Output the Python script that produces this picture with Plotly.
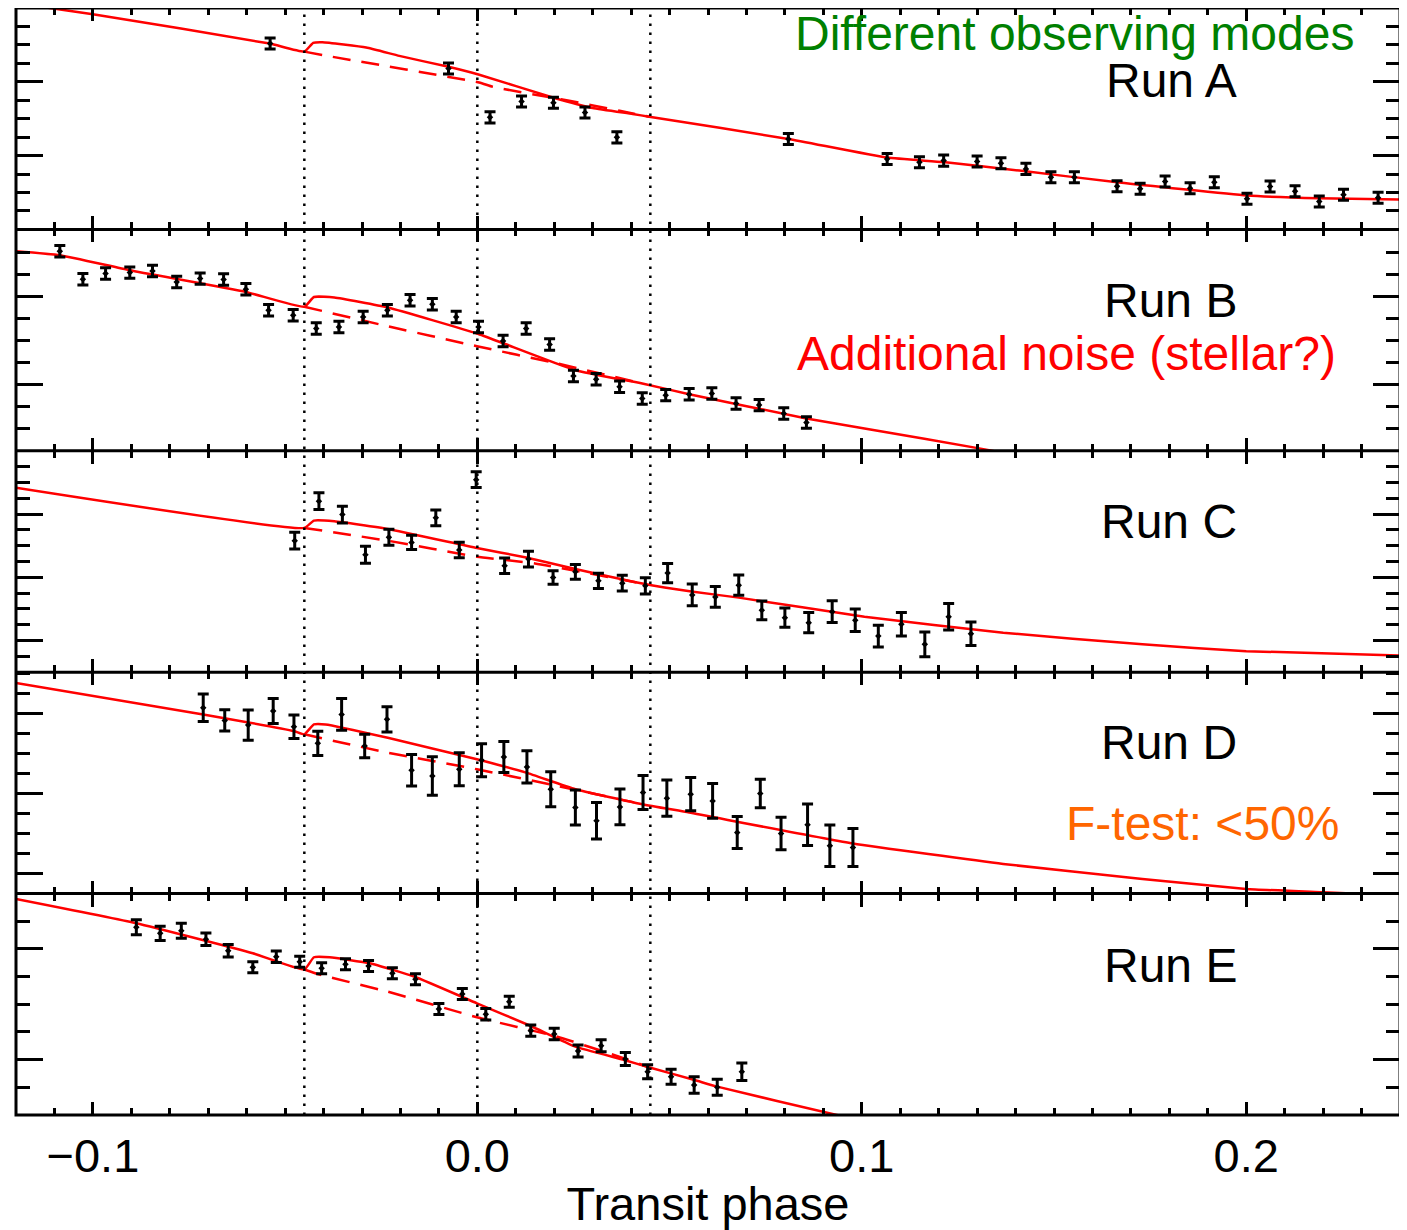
import plotly.graph_objects as go
from plotly.subplots import make_subplots

# ---------------- data ----------------
# Run A
runA_phase = [-0.0539, -0.0075, 0.0033, 0.0115, 0.0198, 0.0280, 0.0363, 0.0809, 0.1066, 0.1150,
              0.1213, 0.1300, 0.1362, 0.1427, 0.1492, 0.1553, 0.1664, 0.1724, 0.1789, 0.1854,
              0.1917, 0.2002, 0.2062, 0.2127, 0.2190, 0.2253, 0.2343]
runA_val = [2.518, 2.180, 1.518, 1.734, 1.716, 1.585, 1.247, 1.226, 0.955, 0.909,
            0.932, 0.919, 0.896, 0.820, 0.707, 0.707, 0.585, 0.550, 0.649, 0.558,
            0.639, 0.415, 0.581, 0.518, 0.378, 0.469, 0.428]
runA_err = [0.075] * len(runA_phase)
runA_model_x = [-0.12, -0.1, -0.054, -0.045, -0.0427, -0.0403, -0.0289, -0.0203, -0.0075, 0.0005,
                0.0196, 0.030, 0.0404, 0.0447, 0.0809, 0.1066, 0.1212, 0.141, 0.167, 0.2002, 0.219, 0.2398]
runA_model_y = [3.066, 2.916, 2.518, 2.409, 2.527, 2.536, 2.464, 2.351, 2.203, 2.095,
                1.788, 1.645, 1.564, 1.527, 1.226, 0.973, 0.912, 0.797, 0.635, 0.459, 0.423, 0.405]
runA_base_x = [-0.045, -0.0376, 0.0005, 0.004, 0.0239, 0.037, 0.0447]
runA_base_y = [2.409, 2.338, 1.990, 1.932, 1.743, 1.608, 1.527]

# Run B
runB_phase = [-0.1086, -0.1026, -0.0967, -0.0904, -0.0845, -0.0782, -0.0721, -0.0660, -0.0602, -0.0543,
              -0.0479, -0.0419, -0.0360, -0.0297, -0.0234, -0.0175, -0.0117, -0.0055, 0.0003, 0.0067,
              0.0127, 0.0188, 0.0250, 0.0309, 0.0370, 0.0429, 0.0490, 0.0551, 0.0610, 0.0673,
              0.0733, 0.0797, 0.0856]
runB_val = [2.512, 2.195, 2.259, 2.270, 2.288, 2.164, 2.202, 2.191, 2.081, 1.843,
            1.787, 1.636, 1.654, 1.768, 1.843, 1.957, 1.911, 1.768, 1.654, 1.496,
            1.636, 1.455, 1.099, 1.062, 0.975, 0.843, 0.881, 0.892, 0.900, 0.787,
            0.768, 0.674, 0.572]
runB_err = [0.065] * len(runB_phase)
runB_model_x = [-0.12, -0.1086, -0.0904, -0.0602, -0.045, -0.0425, -0.0372, -0.0233, -0.0001, 0.0069,
                0.0255, 0.0429, 0.0551, 0.0856, 0.1007, 0.1320, 0.1400]
runB_model_y = [2.512, 2.467, 2.297, 2.051, 1.883, 1.994, 1.987, 1.874, 1.580, 1.466,
                1.164, 1.013, 0.892, 0.617, 0.504, 0.266, 0.200]
runB_base_x = [-0.045, -0.0245, -0.0001, 0.0208, 0.0429]
runB_base_y = [1.883, 1.674, 1.436, 1.240, 1.013]

# Run C
runC_phase = [-0.0475, -0.0412, -0.0351, -0.0291, -0.0230, -0.0171, -0.0108, -0.0047, -0.0003, 0.0071,
              0.0133, 0.0197, 0.0255, 0.0315, 0.0377, 0.0437, 0.0495, 0.0559, 0.0619, 0.0680,
              0.0740, 0.0800, 0.0862, 0.0923, 0.0983, 0.1043, 0.1103, 0.1164, 0.1226, 0.1284]
runC_val = [2.579, 3.203, 2.992, 2.357, 2.632, 2.552, 2.940, 2.432, 3.543, 2.183,
            2.289, 1.997, 2.087, 1.944, 1.908, 1.865, 2.067, 1.722, 1.690, 1.876,
            1.479, 1.362, 1.283, 1.457, 1.321, 1.071, 1.257, 0.940, 1.378, 1.108]
runC_err = [0.132, 0.132, 0.132, 0.135, 0.127, 0.114, 0.124, 0.122, 0.124, 0.122,
            0.124, 0.106, 0.116, 0.119, 0.124, 0.127, 0.151, 0.171, 0.163, 0.159,
            0.148, 0.151, 0.159, 0.171, 0.179, 0.171, 0.186, 0.194, 0.210, 0.186]
runC_model_x = [-0.12, -0.045, -0.0425, -0.0372, -0.0233, -0.0001, 0.0127, 0.0255, 0.0429, 0.0557,
                0.0680, 0.1007, 0.1368, 0.1730, 0.2000, 0.2400]
runC_model_y = [3.416, 2.781, 2.897, 2.886, 2.765, 2.463, 2.314, 2.130, 1.902, 1.775,
                1.679, 1.378, 1.124, 0.940, 0.833, 0.763]
runC_base_x = [-0.045, -0.0233, -0.0001, 0.0150, 0.0429]
runC_base_y = [2.781, 2.579, 2.325, 2.219, 1.902]

# Run D
runD_phase = [-0.0713, -0.0657, -0.0596, -0.0531, -0.0477, -0.0415, -0.0353, -0.0293, -0.0235, -0.0171,
              -0.0117, -0.0047, 0.0011, 0.0069, 0.0129, 0.0191, 0.0255, 0.0310, 0.0371, 0.0431,
              0.0493, 0.0555, 0.0612, 0.0676, 0.0736, 0.0790, 0.0859, 0.0917, 0.0977]
runD_val = [3.070, 2.913, 2.855, 3.029, 2.833, 2.627, 2.988, 2.593, 2.926, 2.290,
            2.219, 2.303, 2.415, 2.456, 2.332, 2.054, 1.825, 1.659, 1.833, 2.012,
            1.942, 1.992, 1.908, 1.513, 2.000, 1.501, 1.609, 1.348, 1.327]
runD_err = [0.172, 0.133, 0.189, 0.156, 0.146, 0.152, 0.197, 0.146, 0.158, 0.196,
            0.240, 0.205, 0.205, 0.193, 0.202, 0.218, 0.218, 0.228, 0.222, 0.212,
            0.227, 0.208, 0.218, 0.199, 0.178, 0.203, 0.259, 0.258, 0.237]
runD_model_x = [-0.12, -0.0713, -0.0477, -0.045, -0.0425, -0.0395, -0.0233, -0.0001, 0.0127, 0.0255,
                0.0429, 0.0551, 0.0977, 0.1368, 0.1730, 0.2000, 0.2199, 0.2400]
runD_model_y = [3.381, 2.988, 2.780, 2.739, 2.863, 2.863, 2.696, 2.427, 2.261, 2.054,
                1.867, 1.762, 1.376, 1.120, 0.933, 0.809, 0.766, 0.725]
runD_base_x = [-0.045, -0.0233, -0.0001, 0.0208, 0.0429]
runD_base_y = [2.739, 2.510, 2.303, 2.095, 1.867]

# Run E
runE_phase = [-0.0887, -0.0825, -0.0770, -0.0706, -0.0648, -0.0584, -0.0523, -0.0462, -0.0405, -0.0343,
              -0.0283, -0.0221, -0.0161, -0.0100, -0.0039, 0.0022, 0.0083, 0.0139, 0.0200, 0.0262,
              0.0322, 0.0385, 0.0443, 0.0504, 0.0564, 0.0624, 0.0688]
runE_val = [2.196, 2.141, 2.165, 2.087, 1.984, 1.834, 1.930, 1.885, 1.825, 1.861,
            1.846, 1.780, 1.726, 1.458, 1.593, 1.410, 1.523, 1.262, 1.232, 1.078,
            1.126, 1.006, 0.891, 0.846, 0.771, 0.750, 0.891]
runE_err = [0.068, 0.065, 0.068, 0.056, 0.056, 0.050, 0.052, 0.050, 0.050, 0.050,
            0.050, 0.050, 0.050, 0.050, 0.050, 0.052, 0.050, 0.050, 0.052, 0.054,
            0.054, 0.059, 0.063, 0.068, 0.075, 0.072, 0.079]
runE_model_x = [-0.12, -0.0887, -0.0584, -0.045, -0.0425, -0.0384, -0.0280, -0.0163, -0.0001, 0.0139,
                0.0255, 0.0382, 0.0446, 0.0565, 0.0624, 0.0935, 0.1000]
runE_model_y = [2.451, 2.232, 1.961, 1.814, 1.925, 1.925, 1.870, 1.749, 1.509, 1.304,
                1.117, 0.997, 0.931, 0.816, 0.756, 0.500, 0.450]
runE_base_x = [-0.045, -0.0413, -0.0233, -0.0001, 0.0208, 0.0382, 0.0446]
runE_base_y = [1.814, 1.771, 1.614, 1.383, 1.207, 1.012, 0.931]

run_names = ["Run A", "Run B", "Run C", "Run D", "Run E"]
y_ranges = [[0.0, 3.0], [0.25, 2.76], [0.5, 4.0], [0.75, 3.515], [0.5, 2.5]]
transit_marks = [-0.045, 0.0, 0.045]
x_tick_vals = [-0.1, 0.0, 0.1, 0.2]
x_tick_text = ["\u22120.1", "0.0", "0.1", "0.2"]

runs = [
    (runA_phase, runA_val, runA_err, runA_model_x, runA_model_y, runA_base_x, runA_base_y),
    (runB_phase, runB_val, runB_err, runB_model_x, runB_model_y, runB_base_x, runB_base_y),
    (runC_phase, runC_val, runC_err, runC_model_x, runC_model_y, runC_base_x, runC_base_y),
    (runD_phase, runD_val, runD_err, runD_model_x, runD_model_y, runD_base_x, runD_base_y),
    (runE_phase, runE_val, runE_err, runE_model_x, runE_model_y, runE_base_x, runE_base_y),
]

# ---------------- figure ----------------
# the page places the figure 8 px from the window's top-left corner
OFF = 8
W, H = 1399, 1222
# target plot area in window pixels: x 16..1400, y 7.5..1115
ML, MR, MT, MB = 16 - OFF, W - (1400 - OFF), 0, H - (1115 - OFF)
FONT = "Liberation Sans, Arial, Helvetica, sans-serif"
NROWS = 5

fig = make_subplots(rows=NROWS, cols=1, shared_xaxes=True, vertical_spacing=0)

for i, (px, pv, pe, mx, my, bx, by) in enumerate(runs, start=1):
    fig.add_trace(go.Scatter(x=bx, y=by, mode="lines",
                             line=dict(color="#ff0000", width=2.5, dash="18px,11px",
                                       shape="spline", smoothing=0.4),
                             showlegend=False, hoverinfo="skip"), row=i, col=1)
    fig.add_trace(go.Scatter(x=mx, y=my, mode="lines",
                             line=dict(color="#ff0000", width=2.5, shape="spline", smoothing=0.4),
                             showlegend=False, hoverinfo="skip"), row=i, col=1)
    fig.add_trace(go.Scatter(x=px, y=pv, mode="markers",
                             marker=dict(color="black", size=5, symbol="diamond"),
                             error_y=dict(type="data", array=pe, visible=True,
                                          color="black", thickness=3, width=5.5),
                             showlegend=False), row=i, col=1)

for i in range(1, NROWS + 1):
    fig.update_xaxes(row=i, col=1, range=[-0.12, 0.24], showgrid=False, zeroline=False,
                     showline=True, linecolor="black", linewidth=1, mirror="allticks",
                     ticks="inside", ticklen=13, tickwidth=2.5, tickcolor="black",
                     tickvals=x_tick_vals, ticktext=x_tick_text,
                     minor=dict(dtick=0.01, tick0=0, ticks="inside", ticklen=7,
                                tickwidth=2.5, tickcolor="black"),
                     showticklabels=(i == NROWS),
                     tickfont=dict(family=FONT, size=47, color="black"))
    fig.update_yaxes(row=i, col=1, range=y_ranges[i - 1], showgrid=False, zeroline=False,
                     showline=True, linecolor="black", linewidth=1, mirror="allticks",
                     ticks="inside", ticklen=27, tickwidth=2.5, tickcolor="black",
                     dtick=1, tick0=0, showticklabels=False,
                     minor=dict(dtick=0.25, tick0=0, ticks="inside", ticklen=14,
                                tickwidth=2.5, tickcolor="black"))

fig.update_xaxes(row=NROWS, col=1, title=dict(text="Transit phase", standoff=6,
                                              font=dict(family=FONT, size=47, color="black")))

for xv in transit_marks:
    fig.add_shape(type="line", xref="x", yref="paper", x0=xv, x1=xv, y0=0, y1=1,
                  line=dict(color="black", width=2.5, dash="2.5px,6.5px"))

# panel frames (outer box plus separators)
fig.add_shape(type="rect", xref="paper", yref="paper", x0=0, x1=1, y0=0, y1=1,
              line=dict(color="black", width=3))
for k in range(1, NROWS):
    fig.add_shape(type="line", xref="paper", yref="paper", x0=0, x1=1,
                  y0=k / NROWS, y1=k / NROWS, line=dict(color="black", width=3))

plot_h = H - MT - MB
plot_w = W - ML - MR


def px_x(p):
    # window pixel -> paper fraction
    return (p - OFF - ML) / plot_w


def px_y(p):
    return (H - MB - (p - OFF)) / plot_h


run_label_y = [80, 300, 521, 743, 965]
for name, yy in zip(run_names, run_label_y):
    fig.add_annotation(text=name, xref="paper", yref="paper", x=px_x(1239), y=px_y(yy),
                       xanchor="right", yanchor="middle", showarrow=False,
                       font=dict(family=FONT, size=48, color="black"))

fig.add_annotation(text="Different observing modes", xref="paper", yref="paper",
                   x=px_x(1356), y=px_y(34), xanchor="right", yanchor="middle", showarrow=False,
                   font=dict(family=FONT, size=48, color="#008000"))
fig.add_annotation(text="Additional noise (stellar?)", xref="paper", yref="paper",
                   x=px_x(1338), y=px_y(354), xanchor="right", yanchor="middle", showarrow=False,
                   font=dict(family=FONT, size=48, color="#ff0000"))
fig.add_annotation(text="F-test: <50%", xref="paper", yref="paper",
                   x=px_x(1341), y=px_y(823), xanchor="right", yanchor="middle", showarrow=False,
                   font=dict(family=FONT, size=48, color="#ff6600"))

fig.update_layout(width=W, height=H, margin=dict(l=ML, r=MR, t=MT, b=MB),
                  paper_bgcolor="white", plot_bgcolor="white", showlegend=False,
                  font=dict(family=FONT, color="black"))

fig.write_html("out.html")
